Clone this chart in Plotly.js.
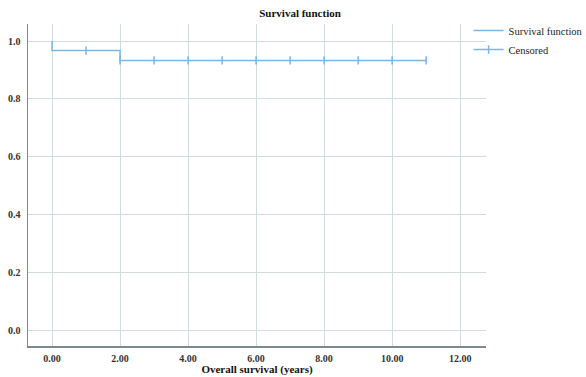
<!DOCTYPE html>
<html><head><meta charset="utf-8">
<script src="https://cdn.plot.ly/plotly-3.0.1.min.js"></script>
<style>body{margin:0;background:#fff}#c{width:586px;height:377px}</style>
</head><body><div id="c"></div>
<script>
// Kaplan-Meier step function (time in years, survival)
const stepTimes = [0, 0, 2, 11];
const stepSurv = [1.0, 0.967, 0.933, 0.933];
// Censored observations
const censTimes = [1, 2, 3, 4, 5, 6, 7, 8, 9, 10, 11];
const censSurv = [0.967, 0.933, 0.933, 0.933, 0.933, 0.933, 0.933, 0.933, 0.933, 0.933, 0.933];
const xTicks = [0, 2, 4, 6, 8, 10, 12];
const yTicks = [0.0, 0.2, 0.4, 0.6, 0.8, 1.0];

// isolate censor points with gaps so no connecting line is drawn (legend shows a cross)
const cx = [], cy = [];
censTimes.forEach((t, i) => { cx.push(t, null); cy.push(censSurv[i], null); });

const blue = '#7ab6e6';
const fam = 'Liberation Serif, DejaVu Serif, serif';
const data = [
  {x: stepTimes, y: stepSurv, type: 'scatter', mode: 'lines', line: {shape: 'hv', color: blue, width: 1.5},
   name: 'Survival function'},
  {x: cx, y: cy, type: 'scatter', mode: 'lines+markers', name: 'Censored', connectgaps: false,
   line: {color: blue, width: 1.5},
   marker: {symbol: 'line-ns-open', size: 6, line: {color: blue, width: 1.5}, color: blue}}
];
const layout = {
  width: 586, height: 377,
  margin: {l: 28, r: 100, t: 24, b: 31, autoexpand: false},
  paper_bgcolor: '#fff', plot_bgcolor: '#fff',
  font: {family: fam, size: 11, color: '#222'},
  title: {text: '<b>Survival function</b>', x: 0.512, xanchor: 'center', y: 0.975, yanchor: 'top',
          font: {family: fam, size: 11, color: '#111'}},
  xaxis: {range: [-0.706, 12.76], tickvals: xTicks, ticktext: xTicks.map(v => '<b>' + v.toFixed(2) + '</b>'),
          showgrid: true, gridcolor: '#cfdcdc', gridwidth: 1, zeroline: false,
          showline: true, linecolor: '#7d8a8a', linewidth: 1.5, ticks: '', ticklabelstandoff: 2,
          title: {text: '<b>Overall survival (years)</b>', standoff: 2, font: {family: fam, size: 11, color: '#111'}},
          tickfont: {family: fam, size: 10, color: '#333'}},
  yaxis: {range: [-0.055, 1.059], tickvals: yTicks, ticktext: yTicks.map(v => '<b>' + v.toFixed(1) + '</b>'),
          showgrid: true, gridcolor: '#cfdcdc', gridwidth: 1, zeroline: false,
          showline: true, linecolor: '#7d8a8a', linewidth: 1.5, ticks: '', ticklabelstandoff: 4,
          tickfont: {family: fam, size: 10, color: '#333'}},
  showlegend: true,
  legend: {x: 0.962, xanchor: 'left', y: 1.025, yanchor: 'top', bgcolor: 'rgba(0,0,0,0)',
           font: {family: fam, size: 10.5, color: '#222'}, tracegroupgap: 0, itemwidth: 30}
};
Plotly.newPlot('c', data, layout, {displayModeBar: false, staticPlot: true});
</script></body></html>
